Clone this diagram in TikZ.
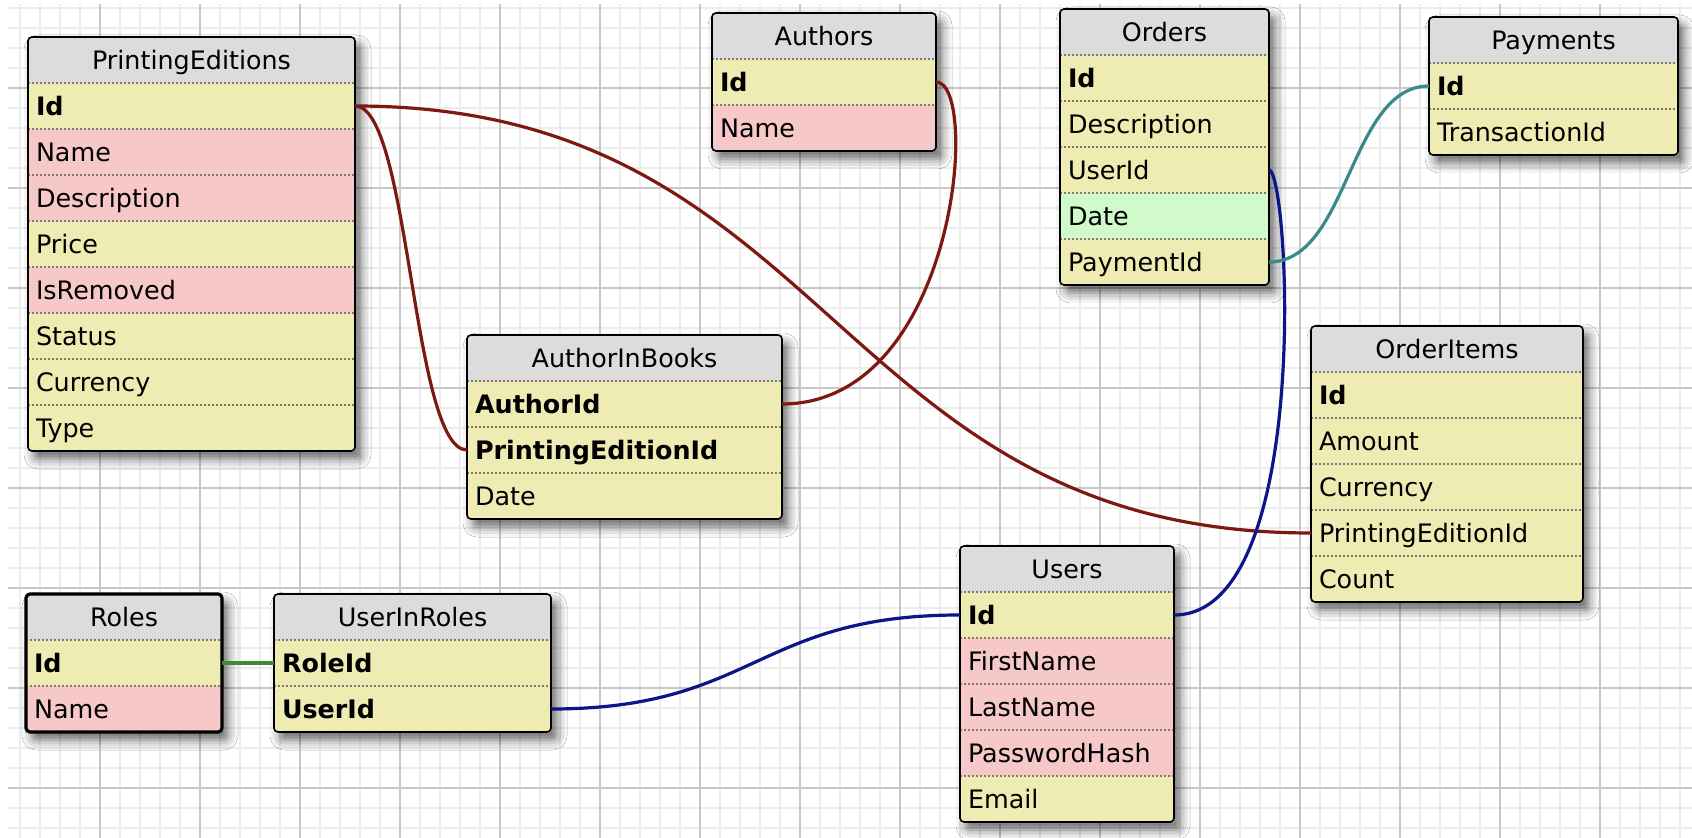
\documentclass[tikz,border=0pt]{standalone}
\usepackage{fontspec}
\setmainfont{DejaVu Sans}
\usetikzlibrary{positioning, shadows.blur}

\definecolor{headgray}{RGB}{220,220,220}
\definecolor{yel}{RGB}{238,236,178}
\definecolor{pnk}{RGB}{246,200,200}
\definecolor{grn}{RGB}{208,250,202}
\definecolor{sepgray}{RGB}{130,120,110}
\definecolor{gridminor}{RGB}{236,236,236}
\definecolor{gridmajor}{RGB}{200,200,200}
\definecolor{fkred}{RGB}{125,25,18}
\definecolor{fkblue}{RGB}{12,22,135}
\definecolor{fkteal}{RGB}{58,138,138}
\definecolor{fkgreen}{RGB}{62,140,50}

\pgfdeclarelayer{back}
\pgfsetlayers{back,main}

\tikzset{
  cell/.style={inner xsep=4pt, inner ysep=0pt, outer sep=0pt, minimum height=23pt,
    text height=11.6pt, text depth=2.3pt, font=\fontsize{12.7}{15}\selectfont},
  tabhead/.style={cell, fill=headgray, align=center},
  tabrow/.style={cell, align=left},
  sepline/.style={sepgray, line width=0.6pt, dash pattern=on 1pt off 1pt},
  tabframe/.style={line width=0.8pt, rounded corners=2pt},
  tabshadow/.style={white, rounded corners=2pt, blur shadow={shadow xshift=3pt,
    shadow yshift=-4pt, shadow blur radius=5pt, shadow opacity=60}},
  minorgrid/.style={gridminor, line width=0.8pt},
  majorgrid/.style={gridmajor, line width=1.1pt},
  fk/.style={line width=1.6pt},
}

% #1 name, #2 top left corner, #3 width (pt), #4 title, #5 rows key/text/colour, #6 frame
\newcommand\dbtable[6]{%
  \pgfmathsetmacro\rowtw{#3-8}
  \node[tabhead, text width=\rowtw pt, anchor=north west] (#1) at (#2) {#4};
  \xdef\prevrow{#1}
  \foreach \k/\t/\c in {#5}{
    \node[tabrow, fill=\c, text width=\rowtw pt, below=0pt of \prevrow.south west,
      anchor=north west] (#1-\k) {\t};
    \draw[sepline] (#1-\k.north west) -- (#1-\k.north east);
    \xdef\prevrow{#1-\k}
  }
  \begin{pgfonlayer}{back}
    \fill[tabshadow] (#1.north west) rectangle (\prevrow.south east);
  \end{pgfonlayer}
  \draw[tabframe, #6] (#1.north west) rectangle (\prevrow.south east);
}

\begin{document}
\begin{tikzpicture}[x=0.5pt, y=-0.5pt]
\useasboundingbox (0,0) rectangle (1692,838);
% background grid
\begin{pgfonlayer}{back}
\fill[white] (0,0) rectangle (1692,838);
\foreach \x in {20,40,...,1680} \draw[minorgrid] (\x,4) -- (\x,838);
\foreach \y in {8,28,...,828} \draw[minorgrid] (8,\y) -- (1692,\y);
\foreach \x in {100,200,...,1600} \draw[majorgrid] (\x,4) -- (\x,838);
\foreach \y in {88,188,...,788} \draw[majorgrid] (8,\y) -- (1692,\y);
\end{pgfonlayer}

% tables
\dbtable{pe}{28,37}{163.5}{PrintingEditions}{id/\textbf{Id}/yel, name/Name/pnk,
  desc/Description/pnk, price/Price/yel, rem/IsRemoved/pnk, status/Status/yel,
  cur/Currency/yel, type/Type/yel}{}
\dbtable{au}{712,13}{112}{Authors}{id/\textbf{Id}/yel, name/Name/pnk}{}
\dbtable{ord}{1060,9}{104.5}{Orders}{id/\textbf{Id}/yel, desc/Description/yel,
  userid/UserId/yel, date/Date/grn, payid/PaymentId/yel}{}
\dbtable{pay}{1429,17}{124.5}{Payments}{id/\textbf{Id}/yel, trans/TransactionId/yel}{}
\dbtable{aib}{467,335}{157.5}{AuthorInBooks}{authorid/\textbf{AuthorId}/yel,
  peid/\textbf{PrintingEditionId}/yel, date/Date/yel}{}
\dbtable{oi}{1311,326}{136}{OrderItems}{id/\textbf{Id}/yel, amount/Amount/yel,
  cur/Currency/yel, peid/PrintingEditionId/yel, count/Count/yel}{}
\dbtable{us}{960,546}{107}{Users}{id/\textbf{Id}/yel, first/FirstName/pnk,
  last/LastName/pnk, hash/PasswordHash/pnk, email/Email/yel}{}
\dbtable{ro}{26,594}{98}{Roles}{id/\textbf{Id}/yel, name/Name/pnk}{line width=1.6pt}
\dbtable{uir}{274,594}{138.5}{UserInRoles}{roleid/\textbf{RoleId}/yel,
  userid/\textbf{UserId}/yel}{}

% relations
\draw[fk, fkred] (pe-id.east) .. controls +(55,0) and +(-55,0) .. (aib-peid.west);
\draw[fk, fkred] (pe-id.east) .. controls +(478,0) and +(-478,0) .. (oi-peid.west);
\draw[fk, fkred] (au-id.east) .. controls +(45,0) and +(175,0) .. (aib-authorid.east);
\draw[fk, fkblue] (ord-userid.east) .. controls +(20,0) and +(140,0) .. (us-id.east);
\draw[fk, fkteal] (ord-payid.east) .. controls +(80,0) and +(-80,0) .. (pay-id.west);
\draw[fk, fkblue] (us-id.west) .. controls +(-204,0) and +(204,0) .. (uir-userid.east);
\draw[fk, fkgreen] (ro-id.east) -- (uir-roleid.west);
\end{tikzpicture}
\end{document}
